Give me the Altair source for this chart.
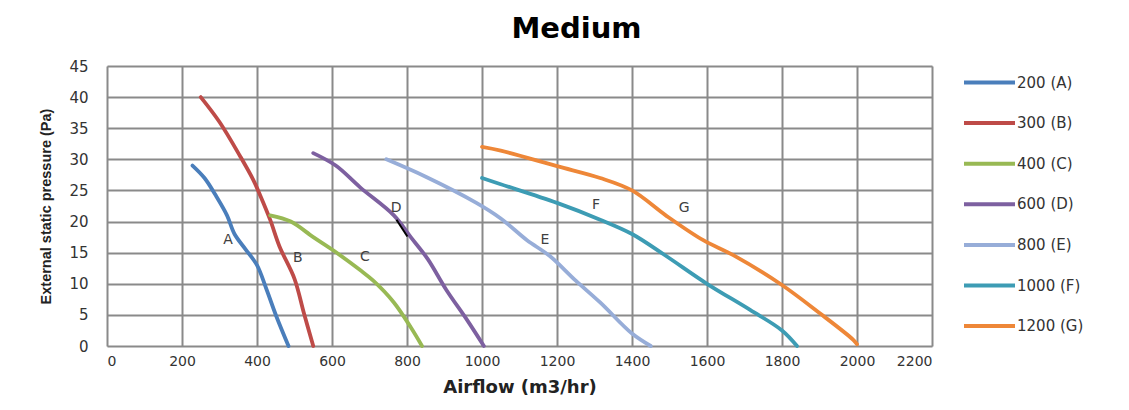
import altair as alt
import pandas as pd

# ---- data ----
series_names = ["200 (A)", "300 (B)", "400 (C)", "600 (D)", "800 (E)", "1000 (F)", "1200 (G)"]
series_colors = ["#4a7ebb", "#be4b48", "#98b954", "#7d60a0", "#97add8", "#3d9cb4", "#ee8738"]

a_x = [228, 260, 292, 320, 340, 370, 400, 426, 452, 484]
a_y = [29, 27, 24, 21, 18, 15.5, 13, 9, 4.7, 0]
b_x = [250, 300, 355, 390, 410, 435, 460, 500, 525, 550]
b_y = [40, 36, 30.5, 26.7, 24, 20.3, 16, 10.8, 5.3, 0]
c_x = [435, 490, 550, 605, 675, 710, 765, 810, 840]
c_y = [21, 20, 17.5, 15.3, 12.2, 10.5, 7, 3, 0]
d_x = [550, 610, 675, 765, 810, 855, 905, 960, 1005]
d_y = [31, 29, 25.5, 21, 17.5, 14, 9, 4.2, 0]
e_x = [745, 850, 985, 1050, 1120, 1180, 1250, 1315, 1400, 1450]
e_y = [30, 27.2, 23, 20.5, 17, 14.5, 10.5, 7, 2, 0]
f_x = [1000, 1050, 1200, 1315, 1400, 1490, 1600, 1715, 1800, 1840]
f_y = [27, 26, 23, 20.3, 18, 14.5, 10, 5.8, 2.5, 0]
g_x = [1000, 1050, 1200, 1315, 1400, 1490, 1590, 1670, 1795, 1900, 1990, 2000]
g_y = [32, 31.4, 28.9, 27, 25, 21, 17, 14.6, 10, 5.3, 1, 0.3]

label_text = ["A", "B", "C", "D", "E", "F", "G"]
label_x = [323, 509, 688, 771, 1168, 1304, 1539]
label_y = [17, 14.1, 14.3, 22.2, 17, 22.7, 22.2]

leader_x = [772]
leader_x2 = [801]
leader_y = [20.3]
leader_y2 = [17.6]

x_ticks = list(range(0, 2201, 200))
y_ticks = list(range(0, 46, 5))

# ---- tables ----
all_x = [a_x, b_x, c_x, d_x, e_x, f_x, g_x]
all_y = [a_y, b_y, c_y, d_y, e_y, f_y, g_y]
rows = []
for name, xs, ys in zip(series_names, all_x, all_y):
    for i, (xv, yv) in enumerate(zip(xs, ys)):
        rows.append({"series": name, "airflow": xv, "pressure": yv, "order": i})
df = pd.DataFrame(rows)
labels_df = pd.DataFrame({"t": label_text, "x": label_x, "y": label_y})
leader_df = pd.DataFrame({"x": leader_x, "x2": leader_x2, "y": leader_y, "y2": leader_y2})

xscale = alt.Scale(domain=[0, 2200], nice=False, zero=True)
yscale = alt.Scale(domain=[0, 45], nice=False, zero=True)

x_axis = alt.Axis(title="Airflow (m3/hr)", values=x_ticks, format="d", ticks=False,
                  domain=False, labelOverlap=False,
                  labelFont="DejaVu Sans", labelFontSize=14, labelColor="#333333",
                  labelPadding=8, titleFont="DejaVu Sans", titleFontSize=18,
                  titleFontWeight="bold", titleColor="#222222", titlePadding=10,
                  gridColor="#8a8a8a", gridWidth=2, gridOpacity=1)
y_axis = alt.Axis(title="External static pressure (Pa)", values=y_ticks, format="d",
                  ticks=False, domain=False, labelOverlap=False,
                  labelFont="DejaVu Sans", labelFontSize=15,
                  labelColor="#333333", labelPadding=19,
                  titleFont="Liberation Sans Narrow, Liberation Sans", titleFontSize=14.5,
                  titleFontWeight="bold", titleColor="#222222", titlePadding=15,
                  gridColor="#8a8a8a", gridWidth=2, gridOpacity=1)

lines = alt.Chart(df).mark_line(
    strokeWidth=3.8, interpolate="catmull-rom", strokeCap="round", strokeJoin="round"
).encode(
    x=alt.X("airflow:Q", scale=xscale, axis=x_axis),
    y=alt.Y("pressure:Q", scale=yscale, axis=y_axis),
    color=alt.Color("series:N",
                    scale=alt.Scale(domain=series_names, range=series_colors),
                    legend=alt.Legend(title=None, orient="none", legendX=855, legendY=-11,
                                      symbolType="stroke", symbolStrokeWidth=4,
                                      symbolSize=2601, labelFont="DejaVu Sans",
                                      labelFontSize=15, labelColor="#333333",
                                      labelOffset=0, rowPadding=4.6, padding=0)),
    order="order:Q",
)

texts = alt.Chart(labels_df).mark_text(
    font="DejaVu Sans", fontSize=14, color="#404040"
).encode(
    x=alt.X("x:Q", scale=xscale, axis=x_axis),
    y=alt.Y("y:Q", scale=yscale, axis=y_axis),
    text="t:N",
)

leader = alt.Chart(leader_df).mark_rule(color="#000000", strokeWidth=2).encode(
    x=alt.X("x:Q", scale=xscale, axis=x_axis),
    x2="x2:Q",
    y=alt.Y("y:Q", scale=yscale, axis=y_axis),
    y2="y2:Q",
)

chart = alt.layer(lines, leader, texts).properties(
    width=825,
    height=280,
    title=alt.TitleParams("Medium", font="DejaVu Sans", fontSize=29, fontWeight="bold",
                          color="#000000", anchor="middle", frame="group", dx=57,
                          offset=0, dy=18, baseline="bottom"),
    autosize=alt.AutoSizeParams(type="none"),
    padding={"left": 99, "top": 58, "right": 180, "bottom": 50},
).configure_view(
    stroke="#8a8a8a", strokeWidth=2
).configure(background="white")

chart.save("out.html", embed_options={"renderer": "svg", "actions": False})
